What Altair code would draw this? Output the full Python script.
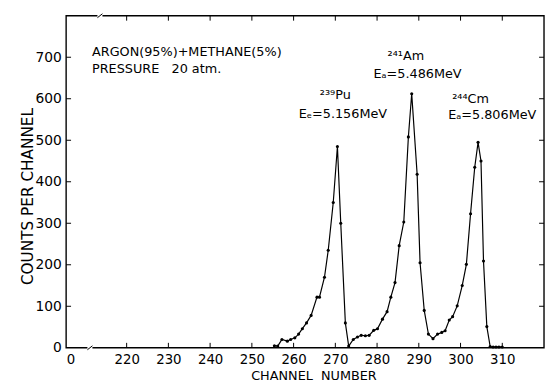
import altair as alt
import pandas as pd

# ---- data ----
channel = [255.4, 256.2, 257.2, 258.5, 259.3, 260.3, 261.2, 262.1, 263.1, 264.2,
           265.6, 266.2, 267.4, 268.3, 269.5, 270.5, 271.3, 272.4, 273.2,
           274.3, 275.3, 276.2, 277.2, 278.1, 279.2, 280.1, 281.3, 282.4, 283.3,
           284.3, 285.3, 286.4, 287.5, 288.3, 289.6, 290.3, 291.3, 292.3, 293.4,
           294.5, 295.5, 296.3, 297.3, 298.1, 299.2, 300.4, 301.4, 302.4, 303.4,
           304.2, 304.9, 305.5, 306.3, 307.1, 307.8, 308.5, 309.2, 310.0]
counts = [5, 4, 20, 16, 20, 24, 33, 46, 60, 78,
          122, 122, 170, 235, 350, 485, 300, 60, 4,
          20, 26, 30, 29, 30, 42, 46, 69, 87, 122,
          157, 246, 303, 508, 612, 418, 205, 90, 33, 22,
          33, 37, 41, 67, 75, 101, 150, 201, 323, 435,
          495, 450, 209, 51, 3, 2, 2, 2, 2]

x_ticks = [220, 230, 240, 250, 260, 270, 280, 290, 300, 310]
y_ticks = [100, 200, 300, 400, 500, 600, 700]

ann_text = ["ARGON(95%)+METHANE(5%)", "PRESSURE\u00a0\u00a0 20 atm.",
            "\u00b2\u2074\u00b9Am", "E\u2090=5.486MeV",
            "\u00b2\u00b3\u2079Pu", "E\u2091=5.156MeV",
            "\u00b2\u2074\u2074Cm", "E\u2090=5.806MeV"]
ann_ch = [211.7, 211.7, 286.9, 289.7, 270.0, 271.8, 302.4, 307.6]
ann_cnt = [712, 671, 702, 660, 608, 563, 600, 560]
ann_align = ["left", "left", "center", "center", "center", "center", "center", "center"]

# axis-break positions (channel units): bottom edge, top edge
break_bottom = [210.6, 211.8]
break_top = [213.0, 214.2]

W, H = 485, 337
FONT = "DejaVu Sans"

xs = alt.Scale(domain=[205.5, 320], nice=False, zero=False)
ys = alt.Scale(domain=[0, 800], nice=False)
xaxis = alt.Axis(values=[205.5] + x_ticks, labelExpr="datum.value < 210 ? '0' : datum.label",
                 grid=False, domain=False, ticks=False, labelPadding=5, labelFontSize=13.5,
                 labelFont=FONT, labelColor="black", title="CHANNEL\u00a0\u00a0NUMBER",
                 titleFont=FONT, titleFontSize=13, titleFontWeight="normal", titleColor="black",
                 titleX=251, titleY=22, titleBaseline="top")
yaxis = alt.Axis(values=[0] + y_ticks, grid=False, domain=False, ticks=False, labelPadding=5,
                 labelFontSize=14, labelFont=FONT, labelColor="black",
                 title="COUNTS PER CHANNEL", titleFont=FONT, titleFontSize=15.5,
                 titleFontWeight="normal", titleColor="black",
                 titleX=-39, titleY=183, titleBaseline="middle", titleAngle=270)

X = alt.X("ch:Q", scale=xs, axis=xaxis)
Y = alt.Y("cnt:Q", scale=ys, axis=yaxis)

df = pd.DataFrame({"ch": channel, "cnt": counts})
one = pd.DataFrame({"a": [0]})

frame = alt.Chart(one).mark_rect(fillOpacity=0, stroke="black", strokeWidth=1.4).encode(
    x=alt.value(0), x2=alt.value(W), y=alt.value(0), y2=alt.value(H))

brk_b = pd.DataFrame({"ch": [break_bottom[0]], "ch2": [break_bottom[1]]})
brk_t = pd.DataFrame({"ch": [break_top[0]], "ch2": [break_top[1]]})
gap_b = alt.Chart(brk_b).mark_rect(fill="white").encode(
    x=X, x2="ch2:Q", y=alt.value(H - 3), y2=alt.value(H + 3))
slash_b = alt.Chart(brk_b).mark_rule(color="black", strokeWidth=1).encode(
    x=X, x2="ch2:Q", y=alt.value(H + 2), y2=alt.value(H - 2))
gap_t = alt.Chart(brk_t).mark_rect(fill="white").encode(
    x=X, x2="ch2:Q", y=alt.value(-3), y2=alt.value(3))
slash_t = alt.Chart(brk_t).mark_rule(color="black", strokeWidth=1).encode(
    x=X, x2="ch2:Q", y=alt.value(2), y2=alt.value(-2))

xt = pd.DataFrame({"ch": x_ticks})
yt = pd.DataFrame({"cnt": y_ticks})
xt_bot = alt.Chart(xt).mark_rule(color="black", strokeWidth=1).encode(
    x=X, y=alt.value(H), y2=alt.value(H - 5))
xt_top = alt.Chart(xt).mark_rule(color="black", strokeWidth=1).encode(
    x=X, y=alt.value(0), y2=alt.value(5))
yt_left = alt.Chart(yt).mark_rule(color="black", strokeWidth=1).encode(
    y=Y, x=alt.value(0), x2=alt.value(5))
yt_right = alt.Chart(yt).mark_rule(color="black", strokeWidth=1).encode(
    y=Y, x=alt.value(W - 5), x2=alt.value(W))

line = alt.Chart(df).mark_line(color="black", strokeWidth=1.2).encode(x=X, y=Y)
pts = alt.Chart(df).mark_point(filled=True, color="black", size=10, opacity=1).encode(x=X, y=Y)

ann = pd.DataFrame({"ch": ann_ch, "cnt": ann_cnt, "t": ann_text, "al": ann_align})
txt_left = alt.Chart(ann[ann.al == "left"]).mark_text(
    align="left", baseline="middle", font=FONT, fontSize=13, color="black").encode(
    x=X, y=Y, text="t:N")
txt_center = alt.Chart(ann[ann.al == "center"]).mark_text(
    align="center", baseline="middle", font=FONT, fontSize=13, color="black").encode(
    x=X, y=Y, text="t:N")

chart = alt.layer(frame, xt_bot, xt_top, yt_left, yt_right, line, pts,
                  gap_b, slash_b, gap_t, slash_t,
                  txt_left, txt_center).properties(
    width=W, height=H,
    autosize=alt.AutoSizeParams(type="none"),
    padding={"left": 59, "top": 5, "right": 1, "bottom": 40},
    background="white",
).configure_view(stroke=None)

chart.save("out.html", embed_options={"renderer": "svg", "actions": False})
